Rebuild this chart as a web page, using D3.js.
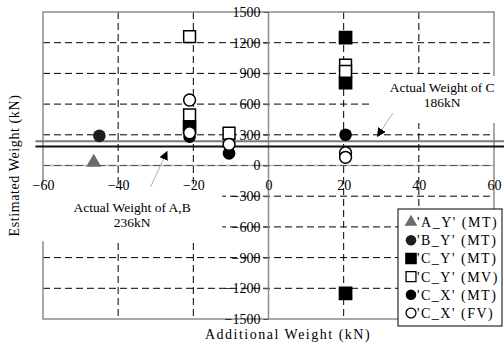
<!DOCTYPE html>
<html>
<head>
<meta charset="utf-8">
<script src="https://cdn.jsdelivr.net/npm/d3@7"></script>
<style>
  body { margin: 0; background: #fff; }
  svg text { font-family: "Liberation Serif", "Times New Roman", Times, serif; }
  .grid line { stroke: #000; stroke-width: 1; stroke-dasharray: 7,4; }
  .frame { fill: none; stroke: #8c8c8c; stroke-width: 1.5; }
</style>
</head>
<body>
<div id="chart"></div>
<script>
// series values: [additional weight, estimated weight]
const aYmt = [[-46.5, 30]];
const bYmt = [[-45, 290]];
const cYmt = [[-21, 376], [20.5, 1250], [20.5, 810], [20.5, -1250]];
const cYmv = [[-21, 1260], [-21, 494], [-10.5, 315], [20.5, 980], [20.5, 920]];
const cXmt = [[-21, 282], [-10.5, 119], [20.5, 300]];
const cXfv = [[-21, 640], [-21, 320], [-10.5, 207], [20.5, 125], [20.5, 80]];

const xTicks = [-60, -40, -20, 0, 20, 40, 60];
const yTicks = [-1500, -1200, -900, -600, -300, 0, 300, 600, 900, 1200, 1500];

const actualAB = 236;
const actualC = 186;

const width = 504, height = 343;
const margin = { top: 12, right: 10, bottom: 24, left: 43 };

const x = d3.scaleLinear().domain([-60, 60]).range([margin.left, width - margin.right]);
const y = d3.scaleLinear().domain([-1500, 1500]).range([height - margin.bottom, margin.top]);

const series = [
  { name: "'A_Y' (MT)", data: aYmt, type: d3.symbolTriangle, size: 100, fill: "#6b6b6b", stroke: "none" },
  { name: "'B_Y' (MT)", data: bYmt, type: d3.symbolCircle, size: 125, fill: "#1e1e1e", stroke: "none" },
  { name: "'C_Y' (MT)", data: cYmt, type: d3.symbolSquare, size: 150, fill: "#000", stroke: "#000" },
  { name: "'C_Y' (MV)", data: cYmv, type: d3.symbolSquare, size: 140, fill: "#fff", stroke: "#000" },
  { name: "'C_X' (MT)", data: cXmt, type: d3.symbolCircle, size: 125, fill: "#000", stroke: "none" },
  { name: "'C_X' (FV)", data: cXfv, type: d3.symbolCircle, size: 110, fill: "#fff", stroke: "#000" }
];

const svg = d3.select("#chart").append("svg")
  .attr("width", width)
  .attr("height", height);

// grid
const grid = svg.append("g").attr("class", "grid");
grid.selectAll(".gx")
  .data(xTicks.filter(d => d !== 0 && Math.abs(d) !== 60))
  .enter().append("line")
  .attr("x1", d => x(d)).attr("x2", d => x(d))
  .attr("y1", y(1500)).attr("y2", y(-1500));
grid.selectAll(".gy")
  .data(yTicks.filter(d => Math.abs(d) !== 1500))
  .enter().append("line")
  .attr("x1", x(-60)).attr("x2", x(60))
  .attr("y1", d => y(d)).attr("y2", d => y(d));

// frame + zero axes
svg.append("rect").attr("class", "frame")
  .attr("x", x(-60)).attr("y", y(1500))
  .attr("width", x(60) - x(-60)).attr("height", y(-1500) - y(1500));
svg.append("line").attr("class", "frame")
  .attr("x1", x(0)).attr("x2", x(0)).attr("y1", y(1500)).attr("y2", y(-1500));
svg.append("line").attr("class", "frame")
  .attr("x1", x(-60)).attr("x2", x(60)).attr("y1", y(0)).attr("y2", y(0))
  .attr("stroke-opacity", 0.6);

// y axis on x=0
const yAxis = svg.append("g")
  .attr("transform", `translate(${x(0)},0)`)
  .call(d3.axisLeft(y).tickValues(yTicks).tickSize(5).tickPadding(3).tickFormat(d3.format("d")));
yAxis.select(".domain").remove();
yAxis.selectAll("line").attr("stroke", "#555");
yAxis.selectAll("text").attr("font-size", 14).attr("fill", "#000");

// annotation boxes (white, hide grid behind)
svg.append("rect").attr("fill", "#fff")
  .attr("x", x(-62.3)).attr("y", y(-180))
  .attr("width", x(-12.3) - x(-62.3)).attr("height", y(-740) - y(-180));
svg.append("rect").attr("fill", "#fff")
  .attr("x", x(27)).attr("y", y(875))
  .attr("width", x(63) - x(27)).attr("height", y(415) - y(875));

// x axis labels on y=0
const xAxis = svg.append("g")
  .attr("transform", `translate(0,${y(0)})`)
  .call(d3.axisBottom(x).tickValues(xTicks).tickSize(0).tickPadding(15));
xAxis.select(".domain").remove();
xAxis.selectAll("text").attr("font-size", 14).attr("fill", "#000");

// actual weight lines
svg.append("line")
  .attr("x1", x(-62)).attr("x2", width)
  .attr("y1", y(actualAB)).attr("y2", y(actualAB))
  .attr("stroke", "#7a7a7a").attr("stroke-width", 2);
svg.append("line")
  .attr("x1", x(-62)).attr("x2", width)
  .attr("y1", y(actualC)).attr("y2", y(actualC))
  .attr("stroke", "#111").attr("stroke-width", 2);

// annotations
svg.append("defs").append("marker")
  .attr("id", "arrow").attr("viewBox", "0 0 10 10")
  .attr("refX", 9).attr("refY", 5)
  .attr("markerWidth", 9).attr("markerHeight", 9)
  .attr("markerUnits", "userSpaceOnUse")
  .attr("orient", "auto")
  .append("path").attr("d", "M0,0 L10,5 L0,10 z").attr("fill", "#000");

const notes = [
  { lines: ["Actual Weight of C", "186kN"], tx: 46.2, ty: 720, from: [33.1, 513], to: [29, 285] },
  { lines: ["Actual Weight of A,B", "236kN"], tx: -36.3, ty: -450, from: [-31.4, -210], to: [-27, 135] }
];
notes.forEach(n => {
  svg.append("line")
    .attr("x1", x(n.from[0])).attr("y1", y(n.from[1]))
    .attr("x2", x(n.to[0])).attr("y2", y(n.to[1]))
    .attr("stroke", "#999").attr("stroke-width", 0.8)
    .attr("marker-end", "url(#arrow)");
  const t = svg.append("text")
    .attr("x", x(n.tx)).attr("y", y(n.ty))
    .attr("text-anchor", "middle").attr("font-size", 13.5);
  n.lines.forEach((l, i) => {
    t.append("tspan").attr("x", x(n.tx)).attr("dy", i ? 15 : 0).text(l);
  });
});

// points
series.forEach(s => {
  svg.append("g").selectAll("path")
    .data(s.data)
    .enter().append("path")
    .attr("transform", d => `translate(${x(d[0])},${y(d[1])})`)
    .attr("d", d3.symbol().type(s.type).size(s.size))
    .attr("fill", s.fill)
    .attr("stroke", s.stroke)
    .attr("stroke-width", 1.5);
});

// axis titles
svg.append("text")
  .attr("transform", `translate(19,${y(0)}) rotate(-90)`)
  .attr("text-anchor", "middle").attr("font-size", 14).attr("letter-spacing", 0.6)
  .text("Estimated Weight (kN)");
svg.append("text")
  .attr("x", 288).attr("y", 339)
  .attr("text-anchor", "middle").attr("font-size", 14).attr("letter-spacing", 1.5)
  .text("Additional Weight (kN)");

// legend
const lg = svg.append("g").attr("transform", "translate(398,209)");
lg.append("rect").attr("width", 104).attr("height", 117)
  .attr("fill", "#fff").attr("stroke", "#000").attr("stroke-width", 1);
series.forEach((s, i) => {
  const row = lg.append("g").attr("transform", `translate(13,${13 + i * 18.2})`);
  row.append("path")
    .attr("d", d3.symbol().type(s.type).size(s.size * 0.7))
    .attr("fill", s.fill).attr("stroke", s.stroke).attr("stroke-width", 1.3);
  row.append("text").attr("x", 6).attr("dy", "0.35em")
    .attr("font-size", 14).attr("letter-spacing", 1.5)
    .text(s.name);
});
</script>
</body>
</html>
